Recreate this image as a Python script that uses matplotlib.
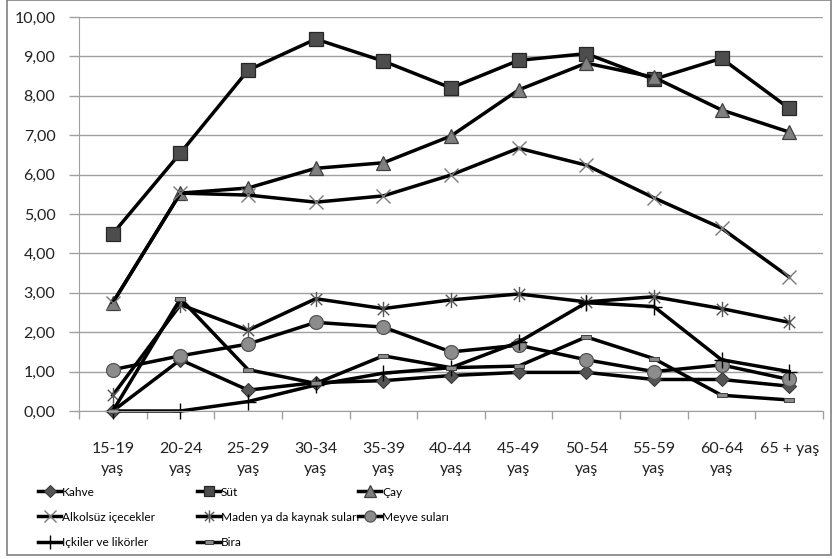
import matplotlib
matplotlib.use("Agg")
import matplotlib.pyplot as plt
from matplotlib.patches import Rectangle
from matplotlib.path import Path
from matplotlib.ticker import FixedLocator, FuncFormatter

plt.rcParams['font.family'] = ['Lato', 'DejaVu Sans']

categories = ["15-19\nyaş", "20-24\nyaş", "25-29\nyaş", "30-34\nyaş", "35-39\nyaş",
              "40-44\nyaş", "45-49\nyaş", "50-54\nyaş", "55-59\nyaş", "60-64\nyaş", "65 + yaş"]

kahve = [0.00, 1.30, 0.53, 0.72, 0.77, 0.90, 0.98, 0.98, 0.80, 0.80, 0.63]
sut = [4.50, 6.55, 8.65, 9.44, 8.88, 8.20, 8.90, 9.07, 8.42, 8.95, 7.68]
cay = [2.75, 5.53, 5.66, 6.16, 6.30, 6.98, 8.15, 8.83, 8.47, 7.64, 7.08]
alkolsuz = [2.75, 5.53, 5.48, 5.30, 5.46, 5.99, 6.67, 6.24, 5.41, 4.64, 3.40]
maden = [0.40, 2.70, 2.05, 2.85, 2.60, 2.82, 2.97, 2.77, 2.90, 2.60, 2.25]
meyve = [1.05, 1.40, 1.70, 2.25, 2.13, 1.50, 1.67, 1.30, 1.00, 1.17, 0.80]
ickiler = [0.00, 0.00, 0.24, 0.66, 0.96, 1.10, 1.75, 2.75, 2.65, 1.30, 1.00]
bira = [0.00, 2.85, 1.05, 0.70, 1.40, 1.10, 1.14, 1.88, 1.33, 0.40, 0.28]

labels = ["Kahve", "Süt", "Çay", "Alkolsüz içecekler", "Maden ya da kaynak suları",
          "Meyve suları", "Içkiler ve likörler", "Bira"]

asterisk = Path([(0, -1), (0, 1), (-0.75, -0.75), (0.75, 0.75), (-0.75, 0.75), (0.75, -0.75)],
                [Path.MOVETO, Path.LINETO, Path.MOVETO, Path.LINETO, Path.MOVETO, Path.LINETO])
dash = Path([(-2, -0.8), (2, -0.8), (2, 0.8), (-2, 0.8), (-2, -0.8)],
            [Path.MOVETO, Path.LINETO, Path.LINETO, Path.LINETO, Path.CLOSEPOLY])

styles = [
    dict(marker='D', ms=7.5, mfc='#555555', mec='#3a3a3a', mew=0.8),
    dict(marker='s', ms=9.5, mfc='#4d4d4d', mec='#262626', mew=0.9),
    dict(marker='^', ms=10, mfc='#808080', mec='#404040', mew=0.9),
    dict(marker='x', ms=10, mfc='none', mec='#7a7a7a', mew=1.0),
    dict(marker=asterisk, ms=11, mfc='none', mec='#555555', mew=1.0),
    dict(marker='o', ms=10, mfc='#8c8c8c', mec='#555555', mew=0.9),
    dict(marker='+', ms=12, mfc='none', mec='#000000', mew=1.0),
    dict(marker=dash, ms=7, mfc='#8a8a8a', mec='#404040', mew=0.7),
]

series = [kahve, sut, cay, alkolsuz, maden, meyve, ickiler, bira]

W, H = 833, 559
fig = plt.figure(figsize=(W / 100, H / 100), dpi=100)
ax = fig.add_axes([79 / W, 1 - 411 / H, (823 - 79) / W, (411 - 17) / H])

x = list(range(len(categories)))
handles = []
for vals, st, lab in zip(series, styles, labels):
    h, = ax.plot(x, vals, color='black', lw=2.5, label=lab, solid_joinstyle='round',
                 clip_on=False, **st)
    handles.append(h)

ax.set_xlim(-0.5, len(categories) - 0.5)
ax.set_ylim(0, 10)
ax.set_yticks([i for i in range(0, 11)])
ax.yaxis.set_major_formatter(FuncFormatter(lambda v, p: f"{v:.2f}".replace('.', ',')))
ax.grid(axis='y', color='#a0a0a0', lw=1.0)
ax.set_axisbelow(True)

ax.set_xticks(x)
ax.set_xticklabels(categories, linespacing=1.55)
ax.xaxis.set_minor_locator(FixedLocator([i - 0.5 for i in range(len(categories) + 1)]))
ax.tick_params(axis='x', which='major', length=0, pad=22, labelsize=11.5, colors='#222222')
ax.tick_params(axis='x', which='minor', length=6, width=1, color='#a0a0a0', direction='out')
ax.tick_params(axis='y', which='major', length=7, width=1, color='#a0a0a0', pad=10,
               labelsize=11.5, labelcolor='#222222')

for s in ['top', 'right']:
    ax.spines[s].set_visible(False)
ax.spines['left'].set_color('#a0a0a0')
ax.spines['bottom'].set_color('#a0a0a0')
ax.spines['left'].set_zorder(0.5)

# legend: three columns, row-major order as in the reference
col_x = [38, 197, 358]
cols = [[0, 3, 6], [1, 4, 7], [2, 5]]
for cx, idx in zip(col_x, cols):
    fig.legend([handles[i] for i in idx], [labels[i] for i in idx],
               loc='upper left', bbox_to_anchor=(cx / W, 1 - 486.5 / H),
               frameon=False, prop={'size': 8.6},
               handlelength=1.95, handletextpad=0.05,
               borderpad=0, borderaxespad=0, labelspacing=1.18, markerscale=0.8)

fig.add_artist(Rectangle((7 / W, 4 / H), (831 - 7) / W, (559 - 4) / H,
                         transform=fig.transFigure, fill=False, ec='#808080', lw=1.2))

fig.savefig('out.png', dpi=100)
